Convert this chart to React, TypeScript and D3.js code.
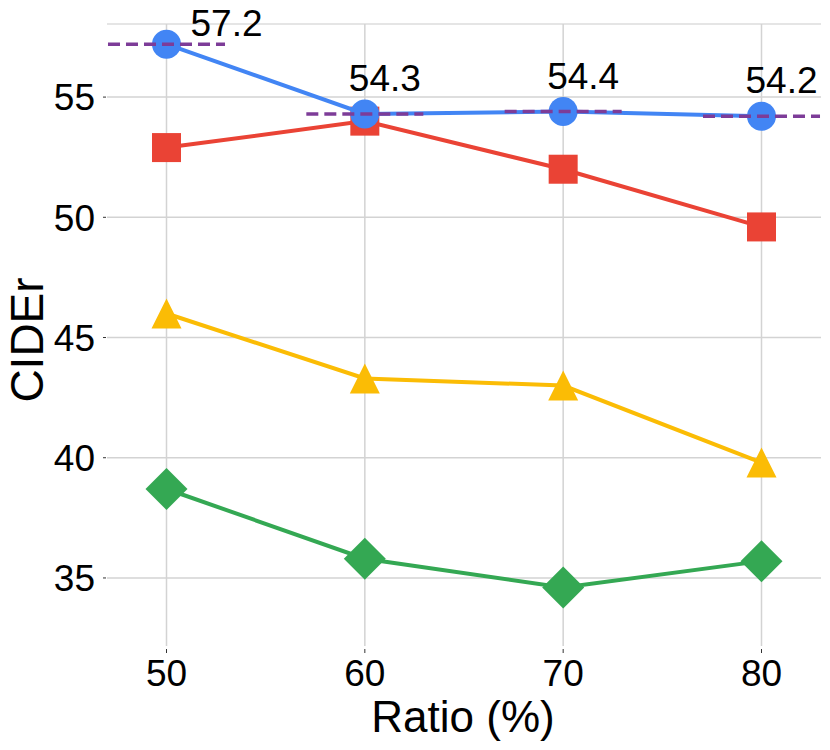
import { useEffect, useRef } from 'react';
import * as d3 from 'd3';

const ratios = [50, 60, 70, 80];
const blueValues = [57.2, 54.3, 54.4, 54.2];
const redValues = [52.9, 54.0, 52.0, 49.6];
const yellowValues = [46.0, 43.3, 43.0, 39.8];
const greenValues = [38.7, 35.8, 34.6, 35.7];
const yTicks = [35, 40, 45, 50, 55];
const xTicks = [50, 60, 70, 80];

const FONT = '"Liberation Sans", Arial, Helvetica, sans-serif';

export default function App() {
  const svgRef = useRef<SVGSVGElement>(null);

  useEffect(() => {
    if (!svgRef.current) return;

    const width = 830;
    const height = 750;
    const margin = { top: 24, right: 9, bottom: 104, left: 107 };
    const innerWidth = width - margin.left - margin.right;
    const innerHeight = height - margin.top - margin.bottom;

    d3.select(svgRef.current).selectAll('*').remove();

    const svg = d3.select(svgRef.current)
      .attr('width', width)
      .attr('height', height);

    const g = svg.append('g')
      .attr('transform', `translate(${margin.left},${margin.top})`);

    const x = d3.scaleLinear().domain([47, 83]).range([0, innerWidth]);
    const y = d3.scaleLinear().domain([32.17, 58.04]).range([innerHeight, 0]);

    // grid
    g.selectAll('.hgrid')
      .data(yTicks)
      .join('line')
      .attr('x1', 0)
      .attr('x2', innerWidth)
      .attr('y1', d => y(d))
      .attr('y2', d => y(d))
      .attr('stroke', '#d3d3d3')
      .attr('stroke-width', 1.5);

    g.append('line')
      .attr('x1', 0)
      .attr('x2', innerWidth)
      .attr('y1', 0)
      .attr('y2', 0)
      .attr('stroke', '#dcdcdc')
      .attr('stroke-width', 1.5);

    g.selectAll('.vgrid')
      .data(xTicks)
      .join('line')
      .attr('x1', d => x(d))
      .attr('x2', d => x(d))
      .attr('y1', 0)
      .attr('y2', innerHeight)
      .attr('stroke', '#d3d3d3')
      .attr('stroke-width', 1.5);

    // tick marks
    g.selectAll('.ytick')
      .data(yTicks)
      .join('line')
      .attr('x1', -4)
      .attr('x2', -1)
      .attr('y1', d => y(d))
      .attr('y2', d => y(d))
      .attr('stroke', '#333')
      .attr('stroke-width', 1);

    g.selectAll('.xtick')
      .data(xTicks)
      .join('line')
      .attr('x1', d => x(d))
      .attr('x2', d => x(d))
      .attr('y1', innerHeight + 3)
      .attr('y2', innerHeight + 7)
      .attr('stroke', '#333')
      .attr('stroke-width', 1);

    // tick labels
    g.selectAll('.ylabel')
      .data(yTicks)
      .join('text')
      .attr('x', -12)
      .attr('y', d => y(d))
      .attr('dy', '0.36em')
      .attr('text-anchor', 'end')
      .style('font-family', FONT)
      .style('font-size', '37px')
      .style('fill', '#000')
      .text(d => d);

    g.selectAll('.xlabel')
      .data(xTicks)
      .join('text')
      .attr('x', d => x(d))
      .attr('y', innerHeight + 40)
      .attr('text-anchor', 'middle')
      .style('font-family', FONT)
      .style('font-size', '37px')
      .style('fill', '#000')
      .text(d => d);

    // axis titles
    svg.append('text')
      .attr('x', margin.left + x(65) - 1)
      .attr('y', 732)
      .attr('text-anchor', 'middle')
      .style('font-family', FONT)
      .style('font-size', '44px')
      .style('fill', '#000')
      .text('Ratio (%)');

    svg.append('text')
      .attr('transform', `translate(43,340) rotate(-90)`)
      .attr('text-anchor', 'middle')
      .style('font-family', FONT)
      .style('font-size', '46px')
      .style('fill', '#000')
      .text('CIDEr');

    const line = d3.line<number>()
      .x((_, i) => x(ratios[i]))
      .y(d => y(d));

    const series = [
      { values: greenValues, color: '#34A853', shape: 'diamond' },
      { values: yellowValues, color: '#FBBC05', shape: 'triangle' },
      { values: redValues, color: '#EA4335', shape: 'square' },
      { values: blueValues, color: '#4285F4', shape: 'circle' },
    ];

    series.forEach(s => {
      g.append('path')
        .datum(s.values)
        .attr('d', line)
        .attr('fill', 'none')
        .attr('stroke', s.color)
        .attr('stroke-width', 4);

      const pts = g.selectAll(null)
        .data(s.values)
        .join('g')
        .attr('transform', (d, i) => `translate(${x(ratios[i])},${y(d)})`);

      if (s.shape === 'circle') {
        pts.append('circle').attr('r', 14.5).attr('fill', s.color);
      } else if (s.shape === 'square') {
        pts.append('rect')
          .attr('x', -14.5).attr('y', -14.5)
          .attr('width', 29).attr('height', 29)
          .attr('fill', s.color);
      } else if (s.shape === 'triangle') {
        pts.append('path').attr('d', 'M0,-15L15,15L-15,15Z').attr('fill', s.color);
      } else {
        pts.append('path').attr('d', 'M0,-21L21,0L0,21L-21,0Z').attr('fill', s.color);
      }
    });

    // dashed reference segments at the best values
    g.selectAll('.ref')
      .data(blueValues)
      .join('line')
      .attr('x1', (d, i) => Math.max(0, x(ratios[i] - 2.95)))
      .attr('x2', (d, i) => Math.min(innerWidth, x(ratios[i] + 2.95)))
      .attr('y1', d => y(d))
      .attr('y2', d => y(d))
      .attr('stroke', '#7D3C98')
      .attr('stroke-width', 3.5)
      .attr('stroke-dasharray', '12,6');

    // value labels
    g.selectAll('.val')
      .data(blueValues)
      .join('text')
      .attr('x', (d, i) => i === 0 ? x(ratios[i]) + 24 : x(ratios[i]) + 20)
      .attr('y', (d, i) => i === 0 ? y(d) - 8 : y(d) - 23)
      .attr('text-anchor', (d, i) => i === 0 ? 'start' : 'middle')
      .style('font-family', FONT)
      .style('font-size', '37px')
      .style('fill', '#000')
      .text(d => d.toFixed(1));
  }, []);

  return (
    <div style={{ position: 'absolute', left: 0, top: 0 }}>
      <svg ref={svgRef}></svg>
    </div>
  );
}
